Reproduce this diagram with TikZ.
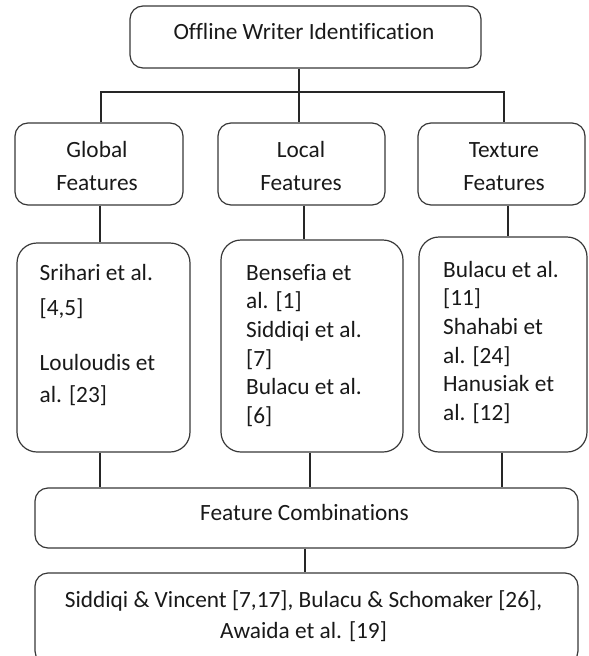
\documentclass[tikz,border=0pt]{standalone}
\usepackage{fontspec}
\setmainfont{Carlito}[Ligatures={NoCommon}]
\newcommand{\mystrut}{\rule{0pt}{20pt}}
\begin{document}
\begin{tikzpicture}[x=1pt,y=-1pt,
  box/.style={draw=black!78, line width=1.2pt, rounded corners=13pt, inner sep=0pt},
  tallbox/.style={box, rounded corners=20pt},
  txt/.style={inner sep=0pt, text=black!90, font=\fontsize{23.3}{28.6}\selectfont},
  link/.style={draw=black!85, line width=1.2pt}]
\useasboundingbox (0,0) rectangle (589,656);
% boxes
\node[box, minimum width=351pt, minimum height=62pt] (top) at (305.5,37) {};
\node[box, minimum width=168pt, minimum height=82pt] (global) at (99,164) {};
\node[box, minimum width=167pt, minimum height=82pt] (local) at (301.5,164) {};
\node[box, minimum width=167pt, minimum height=82pt] (texture) at (501.5,164) {};
\node[tallbox, minimum width=173pt, minimum height=209pt] (gref) at (103.5,347.5) {};
\node[tallbox, minimum width=182pt, minimum height=212pt] (lref) at (312,346) {};
\node[tallbox, minimum width=168pt, minimum height=215pt] (tref) at (503,344.5) {};
\node[box, minimum width=543pt, minimum height=60pt] (combo) at (306.5,518) {};
\node[box, minimum width=543pt, minimum height=91pt] (bottom) at (306.5,618.5) {};
% texts
\node[txt, anchor=north] (toptext) at (304,19) {\mystrut Offline Writer Identification};
\node[txt, anchor=north, align=center, font=\fontsize{23.3}{33}\selectfont] (globaltext) at (97,137) {\mystrut Global\\Features};
\node[txt, anchor=north, align=center, font=\fontsize{23.3}{33}\selectfont] (localtext) at (301,137) {\mystrut Local\\Features};
\node[txt, anchor=north, align=center, font=\fontsize{23.3}{33}\selectfont] (texturetext) at (504,137) {\mystrut Texture\\Features};
\node[txt, anchor=north west, align=left] (greftext) at (39.5,260) {\mystrut Srihari et al.\\[6.4pt]{}[4,5]\\[26.4pt]Louloudis et\\[3.4pt]al. [23]};
\node[txt, anchor=north west, align=left] (lreftext) at (246,260) {\mystrut Bensefia et\\{}al. [1]\\{}Siddiqi et al.\\{}[7]\\{}Bulacu et al.\\{}[6]};
\node[txt, anchor=north west, align=left] (treftext) at (443,257) {\mystrut Bulacu et al.\\{}[11]\\{}Shahabi et\\{}al. [24]\\{}Hanusiak et\\{}al. [12]};
\node[txt, anchor=north] (combotext) at (304.5,500) {\mystrut Feature Combinations};
\node[txt, anchor=north, align=center, font=\fontsize{23.3}{31}\selectfont] (bottomtext) at (303.5,587) {\mystrut Siddiqi \& Vincent [7,17], Bulacu \& Schomaker [26],\\{}Awaida et al. [19]};
% connectors
\coordinate (hub) at (299,92);
\draw[link] ([xshift=2pt]global.north) |- (hub) -| ([xshift=2.5pt]texture.north);
\draw[link] (hub |- top.south) -- (hub |- local.north);
\draw[link] ([xshift=1pt]global.south) -- ([xshift=1pt]global.south |- gref.north);
\draw[link] ([xshift=2.5pt]local.south) -- ([xshift=2.5pt]local.south |- lref.north);
\draw[link] ([xshift=6.5pt]texture.south) -- ([xshift=6.5pt]texture.south |- tref.north);
\draw[link] ([xshift=-3.5pt]gref.south) -- ([xshift=-3.5pt]gref.south |- combo.north);
\draw[link] ([xshift=-2pt]lref.south) -- ([xshift=-2pt]lref.south |- combo.north);
\draw[link] ([xshift=-1pt]tref.south) -- ([xshift=-1pt]tref.south |- combo.north);
\draw[link] ([xshift=-1.5pt]combo.south) -- ([xshift=-1.5pt]combo.south |- bottom.north);
\end{tikzpicture}
\end{document}
